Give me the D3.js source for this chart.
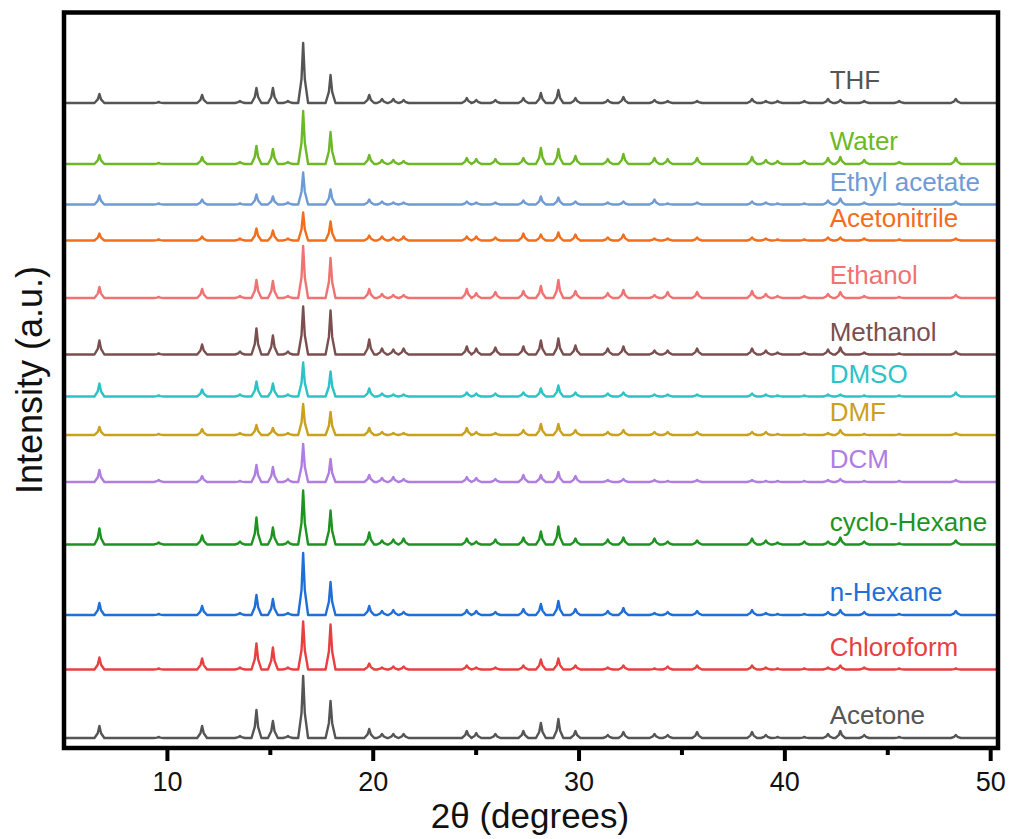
<!DOCTYPE html>
<html>
<head>
<meta charset="utf-8">
<script src="https://cdn.jsdelivr.net/npm/d3@7"></script>
<style>
  body { margin: 0; background: #fff; }
  svg { display: block; }
  text { font-family: "Liberation Sans", Arial, sans-serif; }
</style>
</head>
<body>
<svg id="chart" width="1012" height="839"></svg>
<script>
// Reflection positions (2θ, degrees) shared by all patterns
const peakPositions = [6.72, 9.6, 11.71, 13.55, 14.35, 15.15, 15.88, 16.62, 17.95, 19.83,
  20.45, 21.0, 21.5, 24.57, 25.03, 25.96, 27.32, 28.17, 29.02, 29.85,
  31.42, 32.18, 33.69, 34.33, 35.76, 38.43, 39.1, 39.67, 40.97, 42.12,
  42.72, 43.88, 45.58, 48.33];

// Solvents, top to bottom
const solvents = ["THF", "Water", "Ethyl acetate", "Acetonitrile", "Ethanol", "Methanol",
  "DMSO", "DMF", "DCM", "cyclo-Hexane", "n-Hexane", "Chloroform", "Acetone"];

const colors = ["#555555", "#6cb825", "#6f9bd5", "#f26e1c", "#f07272", "#7b4f4f",
  "#2cc3c6", "#c9a11c", "#b07de0", "#1e9420", "#1f6fd8", "#e8403f", "#555555"];

// Vertical stacking offset of each pattern (a.u.)
const offsets = [645, 584, 543.5, 507.5, 450, 393.5, 351.5, 313, 266, 203.5, 133, 78.5, 10];

// Peak intensities (a.u.) at each reflection position
const thf          = [9, 1, 8, 2, 15, 15, 2, 60, 28, 8, 4, 4, 3, 5, 3, 3, 5, 10, 13, 5, 3, 6, 3, 2, 2, 4, 2, 2, 2, 4, 3, 2, 2, 4];
const water        = [9, 1, 7, 2, 18, 15, 2, 53, 32, 9, 4, 4, 3, 6, 5, 5, 6, 16, 15, 8, 5, 10, 6, 5, 6, 7, 4, 3, 3, 6, 7, 4, 2, 6];
const ethylAcetate = [9, 1, 5, 1, 10, 8, 2, 32, 15, 5, 3, 2, 2, 3, 2, 2, 4, 8, 7, 3, 2, 3, 5, 1, 2, 3, 2, 1, 1, 4, 6, 2, 1, 3];
const acetonitrile = [7, 1, 4, 2, 12, 10, 2, 28, 19, 5, 4, 3, 4, 4, 4, 3, 7, 6, 8, 6, 3, 6, 2, 2, 3, 3, 2, 1, 1, 3, 3, 2, 1, 2];
const ethanol      = [11, 1, 9, 2, 18, 17, 2, 52, 40, 9, 4, 3, 3, 9, 5, 6, 7, 12, 18, 7, 5, 8, 3, 6, 6, 7, 4, 2, 2, 4, 6, 2, 1, 3];
const methanol     = [14, 1, 10, 3, 26, 19, 3, 48, 44, 15, 6, 5, 6, 8, 6, 7, 8, 14, 16, 9, 6, 8, 4, 4, 6, 6, 4, 2, 2, 5, 7, 2, 1, 3];
const dmso         = [13, 1, 7, 2, 15, 13, 2, 34, 25, 8, 3, 2, 2, 4, 3, 3, 4, 8, 11, 4, 3, 4, 2, 2, 2, 3, 2, 1, 1, 2, 2, 1, 1, 4];
const dmf          = [8, 1, 6, 2, 10, 7, 2, 31, 23, 7, 3, 2, 2, 7, 3, 2, 5, 11, 11, 5, 3, 5, 3, 3, 3, 3, 3, 1, 1, 2, 5, 1, 1, 2];
const dcm          = [12, 2, 6, 1, 17, 15, 3, 38, 23, 7, 4, 5, 3, 5, 4, 3, 7, 7, 10, 6, 2, 3, 2, 1, 2, 2, 1, 1, 1, 2, 3, 1, 1, 2];
const cycloHexane  = [16, 2, 9, 3, 27, 17, 3, 54, 34, 12, 4, 5, 6, 6, 3, 5, 7, 13, 18, 6, 5, 7, 6, 3, 4, 6, 4, 2, 3, 3, 7, 3, 1, 4];
const nHexane      = [12, 1, 9, 2, 20, 16, 2, 62, 33, 9, 4, 5, 3, 5, 4, 3, 6, 11, 14, 6, 4, 7, 2, 3, 4, 5, 2, 1, 1, 3, 5, 3, 1, 4];
const chloroform   = [12, 1, 11, 2, 26, 22, 2, 48, 45, 6, 2, 3, 3, 4, 2, 2, 4, 10, 11, 4, 2, 4, 1, 3, 4, 4, 2, 1, 1, 2, 4, 2, 1, 1];
const acetone      = [12, 1, 12, 2, 28, 17, 2, 62, 37, 9, 4, 4, 4, 7, 5, 4, 7, 15, 19, 7, 3, 6, 4, 3, 6, 6, 3, 1, 1, 4, 7, 3, 1, 3];

const intensities = [thf, water, ethylAcetate, acetonitrile, ethanol, methanol, dmso, dmf,
  dcm, cycloHexane, nHexane, chloroform, acetone];

const majorTicks = [10, 20, 30, 40, 50];
const minorTicks = [15, 25, 35, 45];

const xDomain = [5, 50.38];
const yDomain = [0, 735.5];

// ---- layout ----
const svg = d3.select("#chart");
const plotLeft = 64, plotRight = 998, plotTop = 12.5, plotBottom = 748;

const x = d3.scaleLinear().domain(xDomain).range([plotLeft, plotRight]);
const y = d3.scaleLinear().domain(yDomain).range([plotBottom, plotTop]);

svg.append("defs").append("clipPath").attr("id", "plot-clip")
  .append("rect").attr("x", plotLeft).attr("y", plotTop)
  .attr("width", plotRight - plotLeft).attr("height", plotBottom - plotTop);

// Each reflection is drawn as a narrow spike rising from the baseline
const halfBase = 0.24, halfShoulder = 0.08, shoulderFrac = 0.4;
function patternPoints(values) {
  const pts = [[xDomain[0], 0]];
  peakPositions.forEach((p, i) => {
    const h = values[i];
    pts.push([p - halfBase, 0], [p - halfShoulder, h * shoulderFrac], [p, h],
             [p + halfShoulder, h * shoulderFrac], [p + halfBase, 0]);
  });
  pts.push([xDomain[1], 0]);
  return pts;
}

const line = d3.line().x(d => x(d[0])).y(d => y(d[1]));

const plot = svg.append("g").attr("clip-path", "url(#plot-clip)");
intensities.forEach((vals, i) => {
  const off = offsets[i];
  plot.append("path")
    .datum(patternPoints(vals).map(d => [d[0], d[1] + off]))
    .attr("fill", "none")
    .attr("stroke", colors[i])
    .attr("stroke-width", 2.4)
    .attr("stroke-linejoin", "round")
    .attr("d", line);
});

// Pattern labels
const labelAt = 42.2;
solvents.forEach((name, i) => {
  svg.append("text")
    .attr("x", x(labelAt))
    .attr("y", y(offsets[i]) - 14)
    .attr("fill", colors[i])
    .attr("font-size", 26)
    .text(name);
});

// Frame
svg.append("rect")
  .attr("x", plotLeft).attr("y", plotTop)
  .attr("width", plotRight - plotLeft).attr("height", plotBottom - plotTop)
  .attr("fill", "none").attr("stroke", "#000").attr("stroke-width", 4.5);

// Bottom axis ticks (outward)
const xAxis = d3.axisBottom(x).tickValues(majorTicks).tickSize(13).tickPadding(11)
  .tickFormat(d3.format("d"));
const gx = svg.append("g").attr("transform", `translate(0,${plotBottom})`).call(xAxis);
gx.select(".domain").remove();
gx.selectAll(".tick line").attr("stroke", "#000").attr("stroke-width", 4);
gx.selectAll(".tick text").attr("font-size", 27).attr("fill", "#111")
  .attr("font-family", "'Liberation Sans', Arial, sans-serif");

const xMinor = d3.axisBottom(x).tickValues(minorTicks).tickSize(7).tickFormat("");
const gm = svg.append("g").attr("transform", `translate(0,${plotBottom})`).call(xMinor);
gm.select(".domain").remove();
gm.selectAll(".tick line").attr("stroke", "#000").attr("stroke-width", 4);

// Axis titles
svg.append("text")
  .attr("x", 530).attr("y", 828)
  .attr("text-anchor", "middle")
  .attr("font-size", 35)
  .attr("fill", "#111")
  .text("2θ (degrees)");

svg.append("text")
  .attr("transform", "translate(42,380) rotate(-90)")
  .attr("text-anchor", "middle")
  .attr("font-size", 36)
  .attr("fill", "#111")
  .text("Intensity (a.u.)");
</script>
</body>
</html>
